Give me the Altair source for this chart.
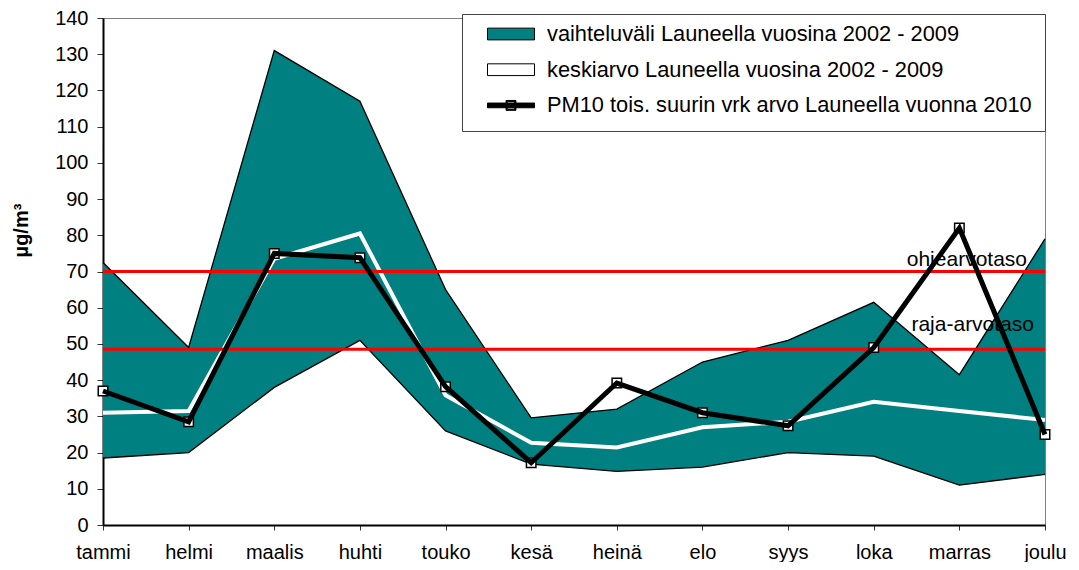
import altair as alt
import pandas as pd

months = ["tammi", "helmi", "maalis", "huhti", "touko", "kesä", "heinä",
          "elo", "syys", "loka", "marras", "joulu"]
range_max = [72.5, 49, 131, 117, 65, 29.6, 32, 45, 51, 61.5, 41.5, 79]
range_min = [18.5, 20, 38, 51, 26, 16.8, 14.8, 16, 20, 19, 11, 14]
mean_0209 = [31, 31.5, 73.5, 80.5, 35.8, 22.7, 21.4, 27, 28.5, 34, 31.5, 29]
pm10_2010 = [37, 28.5, 75, 73.8, 38.2, 17.2, 39.2, 31, 27.4, 49, 82, 25]

level_values = [70, 48.5]
level_labels = ["ohjearvotaso", "raja-arvotaso"]

series_names = ["vaihteluväli Launeella vuosina 2002 - 2009",
                "keskiarvo Launeella vuosina 2002 - 2009",
                "PM10 tois. suurin vrk arvo Launeella vuonna 2010"]
series_colors = ["#008080", "#ffffff", "#000000"]
series_shapes = [
    "M-1,-0.25H1V0.25H-1Z",
    "M-1,-0.25H1V0.25H-1Z",
    "M-1,-0.1H1V0.1H-1Z M-0.21,-0.21H0.21V0.21H-0.21Z M-0.16,-0.16V0.16H0.16V-0.16Z",
]

FONT = "Liberation Sans"

df = pd.DataFrame({"kk": months, "max": range_max, "min": range_min,
                   "mean": mean_0209, "pm10": pm10_2010})
lev = pd.DataFrame({"kk": ["joulu"] * 2, "level": level_values, "label": level_labels})
leg = pd.DataFrame({"series": series_names})

xs = alt.Scale(type="point", padding=0)
ys = alt.Scale(domain=[0, 140], nice=False, zero=True)

x_axis = alt.Axis(title=None, labelAngle=0, grid=False)
y_axis = alt.Axis(title="µg/m³", values=list(range(0, 141, 10)), grid=False)

X = alt.X("kk:N", sort=months, scale=xs, axis=x_axis)


def Y(field):
    return alt.Y(field, scale=ys, axis=y_axis)


area = alt.Chart(df).mark_area(color="#008080", opacity=1).encode(
    x=X, y=Y("max:Q"), y2="min:Q")
edge_max = alt.Chart(df).mark_line(color="black", strokeWidth=1.3).encode(
    x=X, y=Y("max:Q"))
edge_min = alt.Chart(df).mark_line(color="black", strokeWidth=1.3).encode(
    x=X, y=Y("min:Q"))
mean_line = alt.Chart(df).mark_line(color="white", strokeWidth=4).encode(
    x=X, y=Y("mean:Q"))
rules = alt.Chart(lev).mark_rule(color="#ff0000", strokeWidth=3).encode(
    y=Y("level:Q"))
markers = alt.Chart(df).mark_point(shape="square", size=90, filled=True,
                                   fill="white", stroke="black", strokeWidth=1.5,
                                   opacity=1).encode(x=X, y=Y("pm10:Q"))
pm_line = alt.Chart(df).mark_line(color="black", strokeWidth=5).encode(
    x=X, y=Y("pm10:Q"))

txt_ohje = alt.Chart(lev).transform_filter(alt.datum.label == "ohjearvotaso").mark_text(
    align="right", baseline="middle", dx=-18, dy=-12, fontSize=21, font=FONT,
    color="black").encode(x=X, y=Y("level:Q"), text="label:N")
txt_raja = alt.Chart(lev).transform_filter(alt.datum.label == "raja-arvotaso").mark_text(
    align="right", baseline="middle", dx=-11, dy=-24, fontSize=21, font=FONT,
    color="black").encode(x=X, y=Y("level:Q"), text="label:N")

legend_props = dict(title=None, orient="none", legendX=359, legendY=-4,
                    fillColor="white", strokeColor="#444", padding=13,
                    labelFontSize=21.8, labelFont=FONT, labelColor="black",
                    labelLimit=700, symbolSize=2209, symbolStrokeColor="black",
                    symbolStrokeWidth=1, symbolOffset=12, labelOffset=12,
                    rowPadding=13.7, clipHeight=14)

legend_layer = alt.Chart(leg).transform_filter("false").mark_point(
    filled=True, stroke="black", strokeWidth=1, opacity=1).encode(
    color=alt.Color("series:N", scale=alt.Scale(domain=series_names, range=series_colors),
                    legend=alt.Legend(**legend_props)),
    shape=alt.Shape("series:N", scale=alt.Scale(domain=series_names, range=series_shapes),
                    legend=alt.Legend(**legend_props)),
)

chart = alt.layer(
    area, edge_max, edge_min, mean_line, rules, markers, pm_line, txt_ohje, txt_raja,
    legend_layer
).properties(
    width=942, height=507,
    padding={"left": 95, "top": 10, "right": 26, "bottom": 37},
    autosize=alt.AutoSizeParams(type="none"),
).configure(
    font=FONT, background="white"
).configure_view(
    stroke="#808080", strokeWidth=1
).configure_axis(
    labelFontSize=20, labelColor="black", labelFont=FONT, tickColor="#333",
    domainColor="black", domainWidth=2, grid=False
).configure_axisX(
    tickSize=5, labelPadding=12
).configure_axisY(
    tickSize=6, labelPadding=9,
    titleFontSize=20, titleFontWeight="bold", titleFont=FONT,
    titleColor="black", titleX=-76, titleY=212, titleAngle=270,
    titleBaseline="alphabetic", titleAlign="center"
)

chart.save("out.html", embed_options={"renderer": "svg", "actions": False})
